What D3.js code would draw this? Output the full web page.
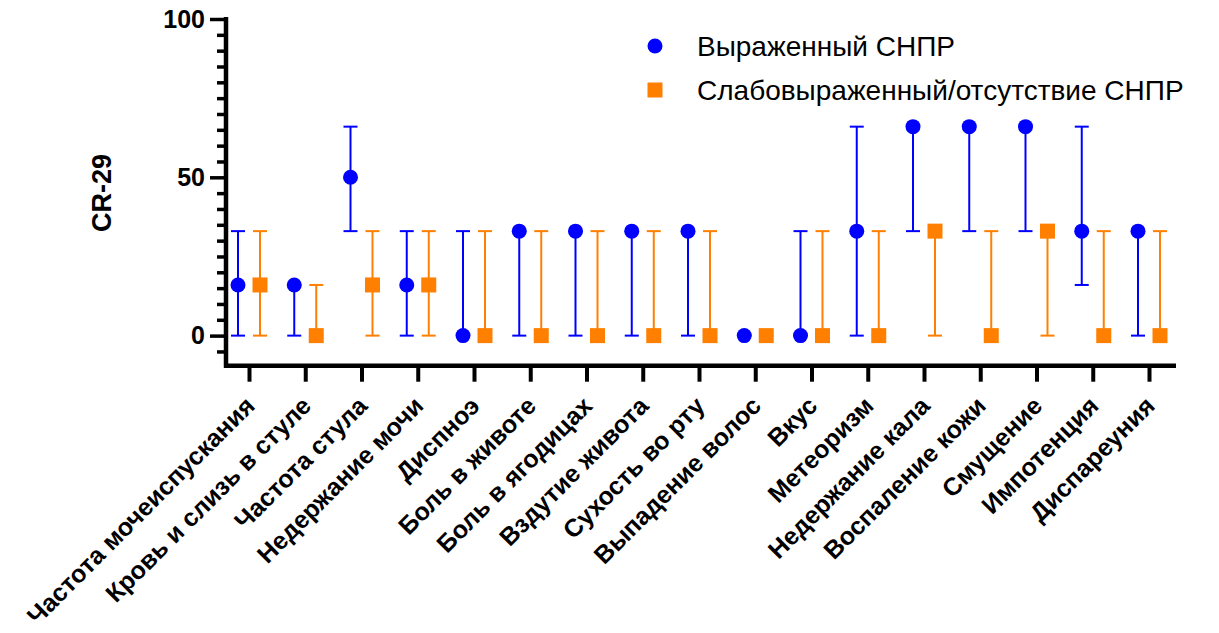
<!DOCTYPE html>
<html>
<head>
<meta charset="utf-8">
<script src="https://cdn.jsdelivr.net/npm/d3@7"></script>
<style>
  body { margin: 0; background: #fff; }
  text { font-family: "Liberation Sans", Arial, sans-serif; }
</style>
</head>
<body>
<div id="container"></div>
<script>
const categories = [
  "Частота мочеиспускания", "Кровь и слизь в стуле", "Частота стула", "Недержание мочи",
  "Диспноэ", "Боль в животе", "Боль в ягодицах", "Вздутие живота", "Сухость во рту",
  "Выпадение волос", "Вкус", "Метеоризм", "Недержание кала", "Воспаление кожи",
  "Смущение", "Импотенция", "Диспареуния",
];

// Выраженный СНПР: median and range
const strongMedian = [16, 16, 50, 16, 0, 33, 33, 33, 33, 0, 0, 33, 66, 66, 66, 33, 33];
const strongLow = [0, 0, 33, 0, 0, 0, 0, 0, 0, 0, 0, 0, 33, 33, 33, 16, 0];
const strongHigh = [33, 16, 66, 33, 33, 33, 33, 33, 33, 0, 33, 66, 66, 66, 66, 66, 33];

// Слабовыраженный/отсутствие СНПР
const weakMedian = [16, 0, 16, 16, 0, 0, 0, 0, 0, 0, 0, 0, 33, 0, 33, 0, 0];
const weakLow = [0, 0, 0, 0, 0, 0, 0, 0, 0, 0, 0, 0, 0, 0, 0, 0, 0];
const weakHigh = [33, 16, 33, 33, 33, 33, 33, 33, 33, 0, 33, 33, 33, 33, 33, 33, 33];

const majorTicks = [0, 50, 100];
const minorTicks = [-5, 5, 10, 15, 20, 25, 30, 35, 40, 45, 55, 60, 65, 70, 75, 80, 85, 90, 95];

const seriesNames = ["Выраженный СНПР", "Слабовыраженный/отсутствие СНПР"];

const width = 1219;
const height = 633;
const blue = "#0000ff";
const orange = "#ff8000";

const svg = d3.select("#container").append("svg")
  .attr("width", width)
  .attr("height", height);

const x = d3.scalePoint()
  .domain(categories)
  .range([249, 1149]);

const y = d3.scaleLinear()
  .domain([-9.5, 100])
  .range([365.7, 19]);

const axisX0 = 226;
const axisX1 = 1176;
const axisY = y(-9.5);

// y axis
const yAxis = svg.append("g")
  .attr("transform", `translate(${axisX0},0)`);

yAxis.call(d3.axisLeft(y).tickValues(majorTicks).tickSize(16).tickPadding(5).tickSizeOuter(0))
  .call((g) => g.select(".domain").remove());

yAxis.selectAll(".tick line").attr("stroke", "#000").attr("stroke-width", 3.5);
yAxis.selectAll(".tick text")
  .attr("font-size", 25)
  .attr("font-weight", "bold")
  .attr("fill", "#000")
  .style("font-family", "'Liberation Sans', Arial, sans-serif");

svg.append("g")
  .attr("transform", `translate(${axisX0},0)`)
  .call(d3.axisLeft(y).tickValues(minorTicks).tickSize(9).tickFormat("").tickSizeOuter(0))
  .call((g) => g.select(".domain").remove())
  .selectAll(".tick line")
  .attr("stroke", "#000")
  .attr("stroke-width", 3.5);

// x axis
const xAxis = svg.append("g")
  .attr("transform", `translate(0,${axisY})`);

xAxis.call(d3.axisBottom(x).tickSize(16).tickSizeOuter(0))
  .call((g) => g.select(".domain").remove());

xAxis.selectAll(".tick line").attr("stroke", "#000").attr("stroke-width", 4);
xAxis.selectAll(".tick text")
  .attr("font-size", 25)
  .attr("font-weight", "bold")
  .attr("fill", "#000")
  .style("font-family", "'Liberation Sans', Arial, sans-serif")
  .attr("text-anchor", "end")
  .attr("y", 0)
  .attr("dy", "0.72em")
  .attr("transform", "translate(-6,29) rotate(-45)");

// axis lines
svg.append("line")
  .attr("x1", axisX0).attr("x2", axisX0)
  .attr("y1", y(100) - 2).attr("y2", axisY + 2)
  .attr("stroke", "#000").attr("stroke-width", 4.5);

svg.append("line")
  .attr("x1", axisX0 - 2).attr("x2", axisX1)
  .attr("y1", axisY).attr("y2", axisY)
  .attr("stroke", "#000").attr("stroke-width", 4.5);

// y title
svg.append("text")
  .attr("transform", `translate(111,193) rotate(-90)`)
  .attr("text-anchor", "middle")
  .attr("font-size", 27)
  .attr("font-weight", "bold")
  .text("CR-29");

// series
const offset = 11;
const cap = 7;

function drawSeries(median, low, high, color, dx, shape) {
  const g = svg.append("g");
  const rows = categories.map((c, i) => ({ c, m: median[i], lo: low[i], hi: high[i] }));

  const bars = g.selectAll("g.bar").data(rows).join("g").attr("class", "bar");
  bars.append("line")
    .attr("x1", (d) => x(d.c) + dx).attr("x2", (d) => x(d.c) + dx)
    .attr("y1", (d) => y(d.lo)).attr("y2", (d) => y(d.hi))
    .attr("stroke", color).attr("stroke-width", 2);
  bars.append("line")
    .attr("x1", (d) => x(d.c) + dx - cap).attr("x2", (d) => x(d.c) + dx + cap)
    .attr("y1", (d) => y(d.lo)).attr("y2", (d) => y(d.lo))
    .attr("stroke", color).attr("stroke-width", 2);
  bars.append("line")
    .attr("x1", (d) => x(d.c) + dx - cap).attr("x2", (d) => x(d.c) + dx + cap)
    .attr("y1", (d) => y(d.hi)).attr("y2", (d) => y(d.hi))
    .attr("stroke", color).attr("stroke-width", 2);

  if (shape === "circle") {
    g.selectAll("circle").data(rows).join("circle")
      .attr("cx", (d) => x(d.c) + dx)
      .attr("cy", (d) => y(d.m))
      .attr("r", 7.5)
      .attr("fill", color);
  } else {
    g.selectAll("rect").data(rows).join("rect")
      .attr("x", (d) => x(d.c) + dx - 7.5)
      .attr("y", (d) => y(d.m) - 7.5)
      .attr("width", 15).attr("height", 15)
      .attr("fill", color);
  }
}

drawSeries(strongMedian, strongLow, strongHigh, blue, -offset, "circle");
drawSeries(weakMedian, weakLow, weakHigh, orange, offset, "square");

// legend
const legend = svg.append("g");
legend.append("circle").attr("cx", 655).attr("cy", 46).attr("r", 7.5).attr("fill", blue);
legend.append("rect").attr("x", 647.5).attr("y", 82.5).attr("width", 15).attr("height", 15).attr("fill", orange);
legend.selectAll("text").data(seriesNames).join("text")
  .attr("x", 697)
  .attr("y", (d, i) => 56 + i * 44)
  .attr("font-size", 28)
  .attr("fill", "#000")
  .text((d) => d);
</script>
</body>
</html>
